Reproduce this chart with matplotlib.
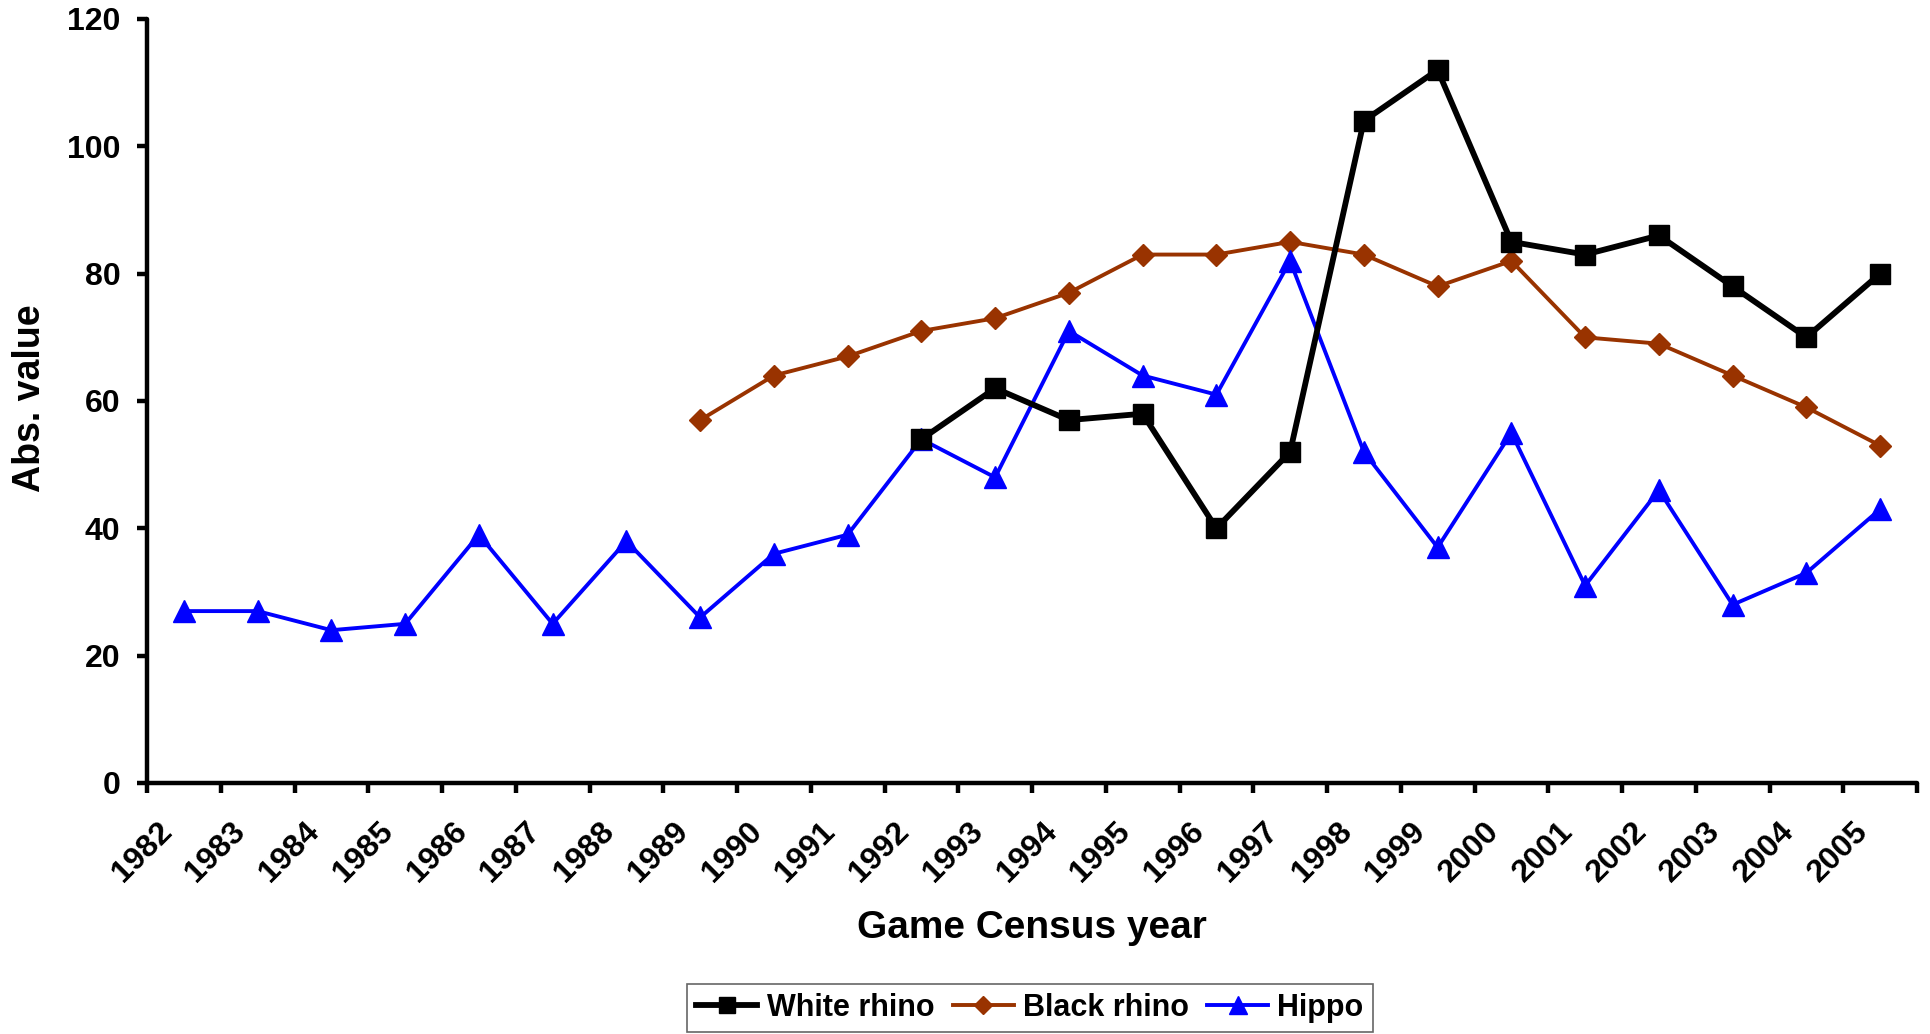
import numpy as np
import matplotlib
matplotlib.use("Agg")
import matplotlib.pyplot as plt
from matplotlib.transforms import ScaledTranslation

years = [str(y) for y in range(1982, 2006)]
white_rhino = [None, None, None, None, None, None, None, None, None, None,
               54, 62, 57, 58, 40, 52, 104, 112, 85, 83, 86, 78, 70, 80]
black_rhino = [None, None, None, None, None, None, None, 57, 64, 67,
               71, 73, 77, 83, 83, 85, 83, 78, 82, 70, 69, 64, 59, 53]
hippo = [27, 27, 24, 25, 39, 25, 38, 26, 36, 39,
         54, 48, 71, 64, 61, 82, 52, 37, 55, 31, 46, 28, 33, 43]

def arr(v):
    return np.array([np.nan if x is None else x for x in v], dtype=float)

plt.rcParams['font.family'] = ['Liberation Sans', 'DejaVu Sans']
plt.rcParams['font.weight'] = 'bold'

fig = plt.figure(figsize=(19.31, 10.34), dpi=100)
ax = fig.add_axes([147/1931, 1 - 783/1034, (1917-147)/1931, (783-19)/1034])

x = np.arange(len(years)) + 0.5
ax.plot(x, arr(white_rhino), color='black', lw=4.2, marker='s', ms=14.5,
        label='White rhino', zorder=3)
ax.plot(x, arr(black_rhino), color='#993300', lw=2.8, marker='D', ms=11.5,
        label='Black rhino', zorder=2)
ax.plot(x, arr(hippo), color='#0000FF', lw=2.8, marker='^', ms=16,
        label='Hippo', zorder=2)

ax.set_xlim(0, len(years))
ax.set_ylim(0, 120)
ax.set_yticks(np.arange(0, 121, 20))
ax.set_xticks(np.arange(0, len(years) + 1))
ax.set_xticklabels(years + [''], rotation=45, ha='center', va='top')

for s in ['top', 'right']:
    ax.spines[s].set_visible(False)
for s in ['left', 'bottom']:
    ax.spines[s].set_linewidth(3.2)
    ax.spines[s].set_capstyle('round')

ax.tick_params(axis='y', direction='out', length=7, width=3.2, pad=12,
               labelsize=23)
ax.tick_params(axis='x', direction='out', length=7, width=3.2, pad=17,
               labelsize=23)
off = ScaledTranslation(-5/100, 0, fig.dpi_scale_trans)
for lab in ax.get_xticklabels():
    lab.set_transform(lab.get_transform() + off)
    lab.set_fontweight('bold')
for lab in ax.get_yticklabels():
    lab.set_fontweight('bold')

fig.text(30/1931, 1 - 398/1034, 'Abs. value', rotation=90, fontsize=27,
         fontweight='bold', ha='center', va='center')
fig.text(1032/1931, 1 - 928/1034, 'Game Census year', fontsize=28,
         fontweight='bold', ha='center', va='center')

leg = fig.legend(loc='center', bbox_to_anchor=(1030/1931, 1 - 1008/1034),
                 ncol=3, frameon=True, fancybox=False, fontsize=22,
                 handlelength=2.0, handletextpad=0.3, columnspacing=0.6,
                 borderpad=0.3, markerscale=0.8)
leg.get_frame().set_edgecolor('#404040')
leg.get_frame().set_linewidth(1.2)
for t in leg.get_texts():
    t.set_fontweight('bold')

fig.savefig('out.png', dpi=100)
